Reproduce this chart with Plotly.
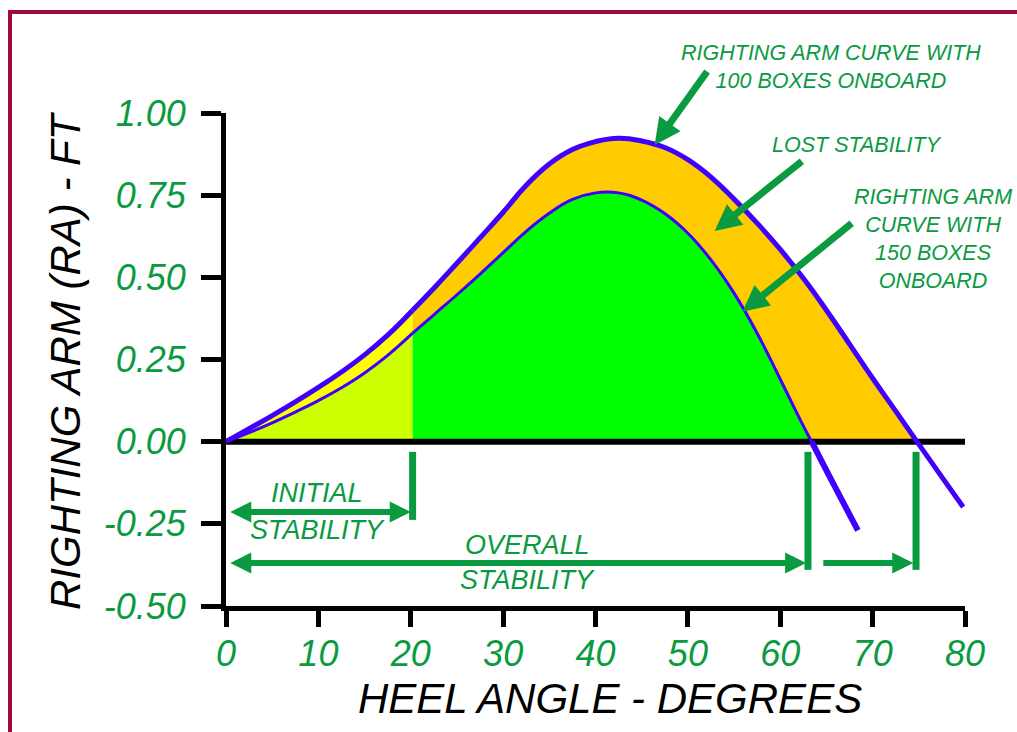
import plotly.graph_objects as go

# ---------------- data ----------------
ANGLE_100 = [0, 2.5, 5, 7.5, 10, 12.5, 15, 17.5, 20.2, 22.5, 25, 27.5, 30, 32.5, 35,
             37.5, 40, 42.5, 45, 47.5, 50, 52.5, 55, 57.5, 60, 62.5, 65, 67.5, 70,
             72.5, 74.8, 77.5, 79.8]
RA_100 = [0.0, 0.0395, 0.0795, 0.121, 0.165, 0.212, 0.264, 0.324, 0.40, 0.467, 0.543,
          0.62, 0.698, 0.78, 0.845, 0.889, 0.913, 0.923, 0.915, 0.895, 0.858, 0.805,
          0.738, 0.665, 0.585, 0.497, 0.40, 0.297, 0.193, 0.093, 0.0, -0.108, -0.199]

ANGLE_150 = [0, 2.5, 5, 7.5, 10, 12.5, 15, 17.5, 20.2, 22.5, 25, 27.5, 30, 32.5, 35,
             37.5, 40, 42.5, 45, 47.5, 50, 52.5, 55, 57.5, 60, 62.5, 63.4, 65.5, 68.4]
RA_150 = [0.0, 0.0275, 0.0575, 0.09, 0.125, 0.164, 0.209, 0.2625, 0.33, 0.386, 0.447,
          0.51, 0.575, 0.64, 0.695, 0.737, 0.757, 0.757, 0.735, 0.694, 0.634, 0.553,
          0.452, 0.33, 0.19, 0.048, 0.0, -0.115, -0.27]

INITIAL_LIMIT = 20.2      # end of initial stability
ZERO_150 = 63.4           # range of stability, 150 boxes
ZERO_100 = 74.8           # range of stability, 100 boxes

X_TICKS = [0, 10, 20, 30, 40, 50, 60, 70, 80]
X_TICK_LABELS = ["0", "10", "20", "30", "40", "50", "60", "70", "80"]
Y_TICKS = [-0.5, -0.25, 0.0, 0.25, 0.5, 0.75, 1.0]
Y_TICK_LABELS = ["-0.50", "-0.25", "0.00", "0.25", "0.50", "0.75", "1.00"]
X_RANGE = [0, 80]
Y_RANGE = [-0.5, 1.0]

# ---------------- style ----------------
FONT = "Liberation Sans, Arial, Helvetica, sans-serif"
GREEN_TXT = "#0A9A3F"
BLUE = "#4000FF"
C_YG = "#CCFF00"
C_YEL = "#FFFF00"
C_GRN = "#00FF00"
C_ORG = "#FFCC00"
BORDER = "#A00A40"
SMOOTH = 1.3


def seg(xs, ys, lo, hi):
    pts = [(x, y) for x, y in zip(xs, ys) if lo <= x <= hi]
    return [p[0] for p in pts], [p[1] for p in pts]


l1x, l1y = seg(ANGLE_150, RA_150, 0, INITIAL_LIMIT)
l2x, l2y = seg(ANGLE_150, RA_150, INITIAL_LIMIT, ZERO_150)
l3x, l3y = seg(ANGLE_150, RA_150, ZERO_150, 90)
u1x, u1y = seg(ANGLE_100, RA_100, 0, INITIAL_LIMIT)
u2x, u2y = seg(ANGLE_100, RA_100, INITIAL_LIMIT, ZERO_100)
u3x, u3y = seg(ANGLE_100, RA_100, ZERO_100, 90)

fig = go.Figure()
noline = dict(width=0, shape="spline", smoothing=SMOOTH)
# fills
fig.add_trace(go.Scatter(x=l1x, y=l1y, mode="lines", line=noline, fill="tozeroy", fillcolor=C_YG))
fig.add_trace(go.Scatter(x=u1x, y=u1y, mode="lines", line=noline, fill="tonexty", fillcolor=C_YEL))
fig.add_trace(go.Scatter(x=l2x, y=l2y, mode="lines", line=noline, fill="tozeroy", fillcolor=C_GRN))
fig.add_trace(go.Scatter(x=u2x, y=u2y, mode="lines", line=noline, fill="tonexty", fillcolor=C_ORG))
# zero line
fig.add_trace(go.Scatter(x=X_RANGE, y=[0, 0], mode="lines", line=dict(color="black", width=6)))
# curves
for xs, ys, w in [(l1x, l1y, 3), (l2x, l2y, 3), (l3x, l3y, 6),
                  (u1x, u1y, 5), (u2x, u2y, 5), (u3x, u3y, 5)]:
    fig.add_trace(go.Scatter(x=xs, y=ys, mode="lines",
                             line=dict(color=BLUE, width=w, shape="spline", smoothing=SMOOTH)))

tickfont = dict(family=FONT, size=36, color=GREEN_TXT, style="italic")
axis_common = dict(showline=True, linecolor="black", linewidth=5, ticks="outside",
                   tickcolor="black", tickwidth=5, showgrid=False, zeroline=False,
                   tickfont=tickfont, fixedrange=True)

fig.update_layout(
    width=1017, height=732,
    margin=dict(l=226, r=52, t=113, b=126),
    paper_bgcolor="white", plot_bgcolor="white",
    showlegend=False,
    xaxis=dict(range=X_RANGE, tickvals=X_TICKS, ticktext=X_TICK_LABELS, ticklen=16,
               ticklabelstandoff=-4, **axis_common),
    yaxis=dict(range=Y_RANGE, tickvals=Y_TICKS, ticktext=Y_TICK_LABELS, ticklen=20,
               ticklabelstandoff=8, **axis_common),
)

ann = []
def txt(x, y, text, size, color=GREEN_TXT, ref="data", **kw):
    d = dict(x=x, y=y, xref="x" if ref == "data" else "paper",
             yref="y" if ref == "data" else "paper", text=text, showarrow=False,
             font=dict(family=FONT, size=size, color=color, style="italic"),
             xanchor="center", yanchor="middle")
    d.update(kw)
    ann.append(d)

def arrow(x, y, ax, ay, side="end", width=7, size=0.75):
    ann.append(dict(x=x, y=y, ax=ax, ay=ay, xref="x", yref="y", axref="x", ayref="y",
                    text="", showarrow=True, arrowhead=2, arrowside=side,
                    arrowwidth=width, arrowsize=size, arrowcolor=GREEN_TXT,
                    standoff=0, startstandoff=0))

# top-right callouts
txt((831 - 226) / 739, (606 - 67) / 493, "RIGHTING ARM CURVE WITH<br>100 BOXES ONBOARD", 21.5, ref="paper")
txt(68.3, 0.903, "LOST STABILITY", 21.5)
txt(76.5, 0.618, "RIGHTING ARM<br>CURVE WITH<br>150 BOXES<br>ONBOARD", 21.5)
arrow(46.4, 0.903, 52.2, 1.131)
arrow(52.9, 0.641, 62.5, 0.857)
arrow(55.9, 0.395, 67.9, 0.668)

# stability ranges
txt(9.86, -0.156, "INITIAL", 27)
txt(9.86, -0.269, "STABILITY", 27)
txt(32.6, -0.314, "OVERALL", 27)
txt(32.6, -0.42, "STABILITY", 27)
arrow(INITIAL_LIMIT - 0.2, -0.214, 0.3, -0.214, side="end+start", width=6, size=0.7)
arrow(62.8, -0.369, 0.3, -0.369, side="end+start", width=6, size=0.7)
arrow(74.4, -0.369, 64.5, -0.369, side="end", width=6, size=0.7)

# axis titles
ann.append(dict(x=(610 - 226) / 739, y=(606 - 698) / 493, xref="paper", yref="paper",
                text="HEEL ANGLE - DEGREES", showarrow=False,
                font=dict(family=FONT, size=42, color="black", style="italic"),
                xanchor="center", yanchor="middle"))
ann.append(dict(x=(65 - 226) / 739, y=(606 - 361) / 493, xref="paper", yref="paper",
                text="RIGHTING ARM (RA) - FT", showarrow=False, textangle=-90,
                font=dict(family=FONT, size=42, color="black", style="italic"),
                xanchor="center", yanchor="middle"))
fig.update_layout(annotations=ann)

# vertical markers
shapes = []
for xv, y0, y1 in [(INITIAL_LIMIT, -0.031, -0.238), (63.0, -0.031, -0.39), (74.7, -0.031, -0.39)]:
    shapes.append(dict(type="line", xref="x", yref="y", x0=xv, x1=xv, y0=y0, y1=y1,
                       line=dict(color=GREEN_TXT, width=7), layer="above"))
# outer border
shapes.append(dict(type="rect", xref="paper", yref="paper",
                   x0=(10 - 226) / 739, x1=(1040 - 226) / 739,
                   y0=(606 - 760) / 493, y1=(606 - 12) / 493,
                   line=dict(color=BORDER, width=4), fillcolor="rgba(0,0,0,0)", layer="above"))
fig.update_layout(shapes=shapes)

fig.write_html("out.html", config={"displayModeBar": False},
               post_script="document.body.style.margin='0';document.body.style.overflow='hidden';")
